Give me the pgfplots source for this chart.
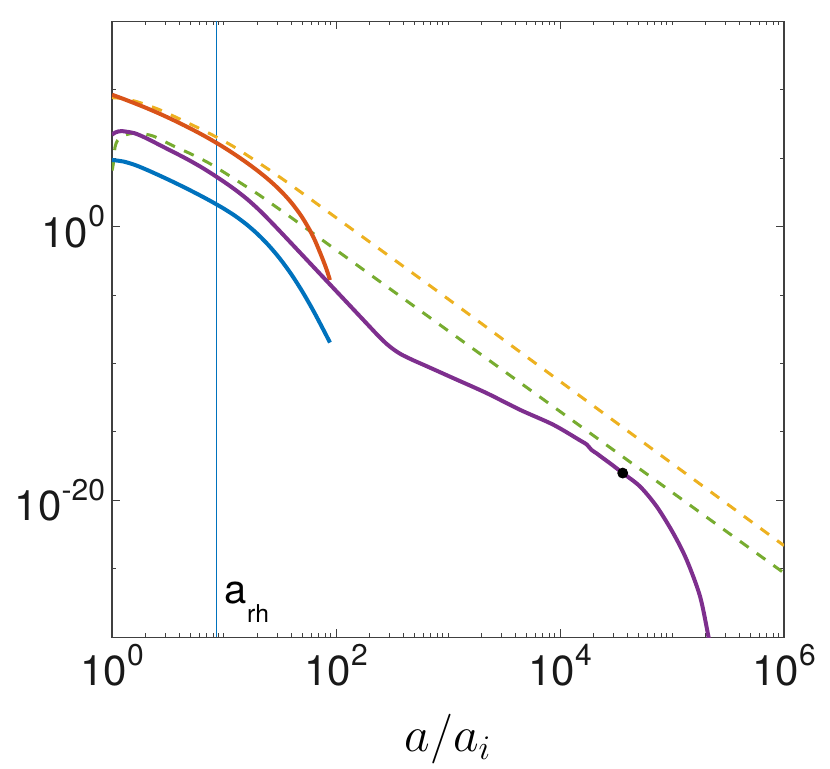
\documentclass[border=0pt]{standalone}
\usepackage{fontspec}
\setmainfont{TeX Gyre Heros}
\usepackage{pgfplots}
\pgfplotsset{compat=1.18}
\definecolor{mblue}{rgb}{0,0.447,0.741}
\definecolor{mred}{rgb}{0.85,0.325,0.098}
\definecolor{myellow}{rgb}{0.929,0.694,0.125}
\definecolor{mpurple}{rgb}{0.494,0.184,0.556}
\definecolor{mgreen}{rgb}{0.466,0.674,0.188}
\newcommand{\tp}[1]{10\raisebox{0.48em}{\fontsize{15}{15}\selectfont #1}}
\begin{document}
\begin{tikzpicture}
\begin{axis}[
  scale only axis, width=336pt, height=308pt,
  xmode=log, ymode=log,
  xmin=1, xmax=1e6, ymin=1e-30, ymax=1e15,
  xtick={1,100,10000,1000000},
  xticklabels={\tp{0},\tp{2},\tp{4},\tp{6}},
  minor xtick={2,3,4,5,6,7,8,9,10,20,30,40,50,60,70,80,90,200,300,400,500,600,700,800,900,1000,2000,3000,4000,5000,6000,7000,8000,9000,20000,30000,40000,50000,60000,70000,80000,90000,100000,200000,300000,400000,500000,600000,700000,800000,900000},
  ytick={1e-20,1},
  yticklabels={\tp{-20},\tp{0}},
  minor ytick={1e-30,1e-25,1e-15,1e-10,1e-5,1e5,1e10,1e15},
  major tick length=4pt, minor tick length=2pt,
  tick style={black!75, line width=0.5pt},
  axis line style={black!75, line width=0.6pt},
  tick label style={font=\fontsize{21}{21}\selectfont, text=black!90},
  xlabel={$a/a_i$},
  xlabel style={font=\fontsize{23}{23}\selectfont, at={(axis description cs:0.5,-0.186)}, anchor=base},
]
% vertical line a_rh
\addplot[mblue, line width=0.5pt] coordinates {(8.6,1e-30) (8.6,1e15)};
% yellow dashed
\addplot[myellow, line width=1.5pt, dash pattern=on 5.3pt off 5pt, smooth] coordinates {
(1,2.630e9) (1.259,2.291e9) (1.585,1.514e9) (1.995,8.318e8) (2.754,3.090e8) (3.981,7.586e7) (5.321,2.455e7) (8.035,4.571e6) (11.72,8.511e5) (17.06,1.202e5) (24.83,1.585e4) (35.08,2.239e3) (48.98,316.2) (67.61,46.77) (97.72,5.248) (316.2,5.012e-3) (1000,5.248e-6) (10000,5.012e-12) (100000,5.012e-18) (1000000,5.012e-24)};
% green dashed
\addplot[mgreen, line width=1.5pt, dash pattern=on 5.3pt off 5pt, smooth] coordinates {
(1,1.259e4) (1.028,3.981e4) (1.064,6.457e5) (1.122,1.995e6) (1.230,3.981e6) (1.449,6.166e6) (1.778,6.310e6) (2.344,4.074e6) (3.524,7.943e5) (5.012,2.138e5) (7.244,4.677e4) (10,9.333e3) (14.39,1.380e3) (20.23,229.1) (28.51,31.62) (40.18,4.365) (100,1.995e-2) (1000,2.512e-8) (10000,3.162e-14) (100000,3.981e-20) (1000000,5.012e-26)};
% blue
\addplot[mblue, line width=2pt, smooth] coordinates {
(1,7.413e4) (1.259,5.754e4) (1.585,3.311e4) (1.995,1.549e4) (2.512,6.683e3) (3.162,2.799e3) (3.981,1.132e3) (5.012,442.6) (6.310,167.1) (7.943,60.26) (10,20.28) (12.59,6.053) (15.85,1.486) (19.95,0.2864) (25.12,4.188e-2) (31.62,4.487e-3) (39.81,3.404e-4) (50.12,1.786e-5) (63.10,6.637e-7) (79.43,1.871e-8) (88.31,3.388e-9)};
% red
\addplot[mred, line width=2pt, smooth] coordinates {
(1,4.365e9) (1.259,2.163e9) (1.585,1.047e9) (1.995,4.898e8) (2.512,2.188e8) (3.162,9.333e7) (3.981,3.802e7) (5.012,1.479e7) (6.310,5.465e6) (7.943,1.894e6) (10,6.095e5) (12.59,1.799e5) (15.85,4.898e4) (19.95,1.216e4) (25.12,2.630e3) (31.62,462.4) (39.81,58.88) (50.12,4.519) (63.10,0.1603) (79.43,1.698e-3) (88.31,1.259e-4)};
% purple
\addplot[mpurple, line width=2pt, smooth] coordinates {
(1,5.248e6) (1.072,7.586e6) (1.148,9.120e6) (1.230,9.550e6) (1.585,6.699e6) (1.995,3.062e6) (2.512,1.178e6) (3.162,4.477e5) (3.981,1.722e5) (5.012,6.324e4) (6.310,2.143e4) (7.943,6.622e3) (10,1.888e3) (12.59,496.6) (15.85,113.8) (19.95,21.18) (25.12,3.243) (31.62,0.4550) (50.12,8.318e-3) (79.43,1.514e-4) (125.9,2.754e-6) (199.5,5.012e-8) (223.9,1.820e-8) (251.2,6.918e-9) (281.8,2.818e-9) (316.2,1.303e-9) (354.8,6.761e-10) (398.1,3.890e-10) (501.2,1.585e-10) (631.0,6.918e-11) (1117,8.511e-12) (2213,6.92e-13) (4395,4.17e-14) (8710,3.39e-15) (15136,2.40e-16) (17378,1.20e-16) (19055,5.01e-17) (21380,2.63e-17) (22751,1.78e-17) (28840,4.27e-18) (36308,1.0e-18) (51761,1.05e-19) (72946,3.63e-21) (102329,4.17e-23) (134896,4.68e-25) (177828,1.0e-27) (211349,1.17e-30) (218776,2.51e-31)};
% dot
\addplot[only marks, mark=*, mark size=2.5pt, black] coordinates {(36308,1e-18)};
\node[anchor=base west, inner sep=0pt, font=\fontsize{20}{20}\selectfont] at (axis cs:10.1,3.2e-28) {a\raisebox{-9.7pt}{\fontsize{12.3}{12.3}\selectfont rh}};
\end{axis}
\pgfresetboundingbox
\path (current axis.south west) ++(-56pt,-65.35pt) rectangle ++(415pt,384pt);
\end{tikzpicture}
\end{document}
